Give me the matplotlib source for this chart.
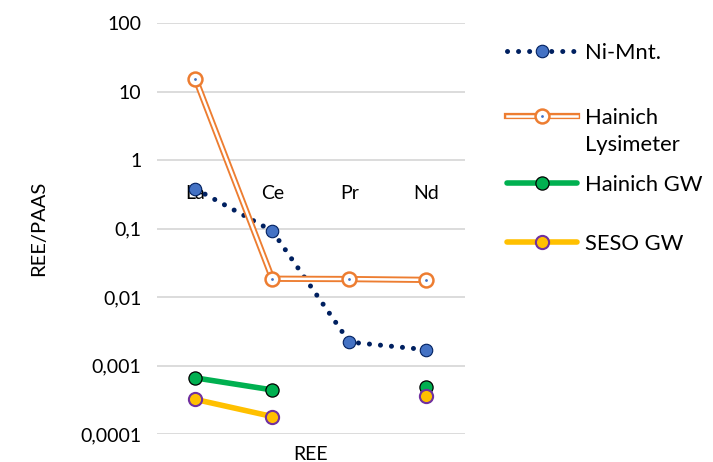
import numpy as np
import matplotlib.pyplot as plt
from matplotlib.legend_handler import HandlerTuple

plt.rcParams['font.family'] = ['Lato', 'DejaVu Sans']

ree = ['La', 'Ce', 'Pr', 'Nd']
ni_mnt = [0.38, 0.092, 0.0022, 0.0017]
hainich_lys = [15.5, 0.0185, 0.0183, 0.0178]
hainich_gw = [0.00066, 0.00044, np.nan, 0.00049]
seso_gw = [0.00032, 0.00018, np.nan, 0.00036]
yticks = [1e-4, 1e-3, 1e-2, 1e-1, 1, 10, 100]
ylabels = ['0,0001', '0,001', '0,01', '0,1', '1', '10', '100']

fig = plt.figure(figsize=(7.13, 4.62), dpi=100)
ax = fig.add_axes([0.220, 0.0606, 0.432, 0.8894])
x = np.arange(len(ree))

navy = '#002060'
blue = '#4472C4'
orange = '#ED7D31'
green = '#00B050'
gold = '#FFC000'
purple = '#7030A0'

# Ni-Mnt: round dotted line
l1, = ax.plot(x, ni_mnt, color=navy, lw=3.6, linestyle=(0, (0.01, 2.2)),
              dash_capstyle='round', zorder=3)
m1, = ax.plot(x, ni_mnt, ls='none', marker='o', ms=9, mfc=blue, mec=navy,
              mew=0.8, zorder=4)

# Hainich Lysimeter: double (compound) orange line
l2a, = ax.plot(x, hainich_lys, color=orange, lw=4.5, zorder=3)
l2b, = ax.plot(x, hainich_lys, color='white', lw=1.8, zorder=3)
m2, = ax.plot(x, hainich_lys, ls='none', marker='o', ms=10, mfc='white',
              mec=orange, mew=1.8, zorder=4)
m2d, = ax.plot(x, hainich_lys, ls='none', marker='.', ms=2, color=blue, zorder=5)

# Hainich GW
l3, = ax.plot(x, hainich_gw, color=green, lw=4, solid_capstyle='round', zorder=3)
m3, = ax.plot(x, hainich_gw, ls='none', marker='o', ms=9.5, mfc=green, mec='black',
              mew=0.9, zorder=4)

# SESO GW
l4, = ax.plot(x, seso_gw, color=gold, lw=4, solid_capstyle='round', zorder=3)
m4, = ax.plot(x, seso_gw, ls='none', marker='o', ms=9.5, mfc=gold, mec=purple,
              mew=1.5, zorder=4)

ax.set_yscale('log')
ax.set_ylim(1e-4, 100)
ax.set_xlim(-0.5, 3.5)
ax.set_yticks(yticks)
ax.set_yticklabels(ylabels)
ax.yaxis.set_minor_locator(plt.NullLocator())
ax.grid(axis='y', color='#d9d9d9', lw=1.3)
ax.set_axisbelow(True)

for s in ['top', 'right', 'left']:
    ax.spines[s].set_visible(False)
ax.spines['bottom'].set_position(('data', 1))
ax.spines['bottom'].set_visible(False)
ax.set_xticks(x)
ax.set_xticklabels(ree)
ax.tick_params(axis='both', length=0, labelsize=14, colors='black')
ax.tick_params(axis='y', pad=11)
ax.tick_params(axis='x', pad=18)

ax.set_ylabel('REE/PAAS', fontsize=14.5, labelpad=24)
ax.text(0.5, -0.028, 'REE', transform=ax.transAxes, ha='center', va='top', fontsize=14)

# legend entries, each placed at its own height like the original
handles = [(l1, m1), (l2a, l2b, m2, m2d), (l3, m3), (l4, m4)]
labels = ['Ni-Mnt.', 'Hainich', 'Hainich GW', 'SESO GW']
leg_y = [53, 118, 185, 244]
for h, lab, yy in zip(handles, labels, leg_y):
    fig.legend([h], [lab], handler_map={tuple: HandlerTuple(ndivide=1, pad=0)},
               loc='center left', bbox_to_anchor=(507 / 713, 1 - yy / 462),
               frameon=False, fontsize=15.8, handlelength=3.2,
               handletextpad=0.36, borderpad=0, borderaxespad=0)
fig.text(585 / 713, 1 - 145 / 462, 'Lysimeter', ha='left', va='center', fontsize=15.8)

fig.savefig('out.png', dpi=100)
